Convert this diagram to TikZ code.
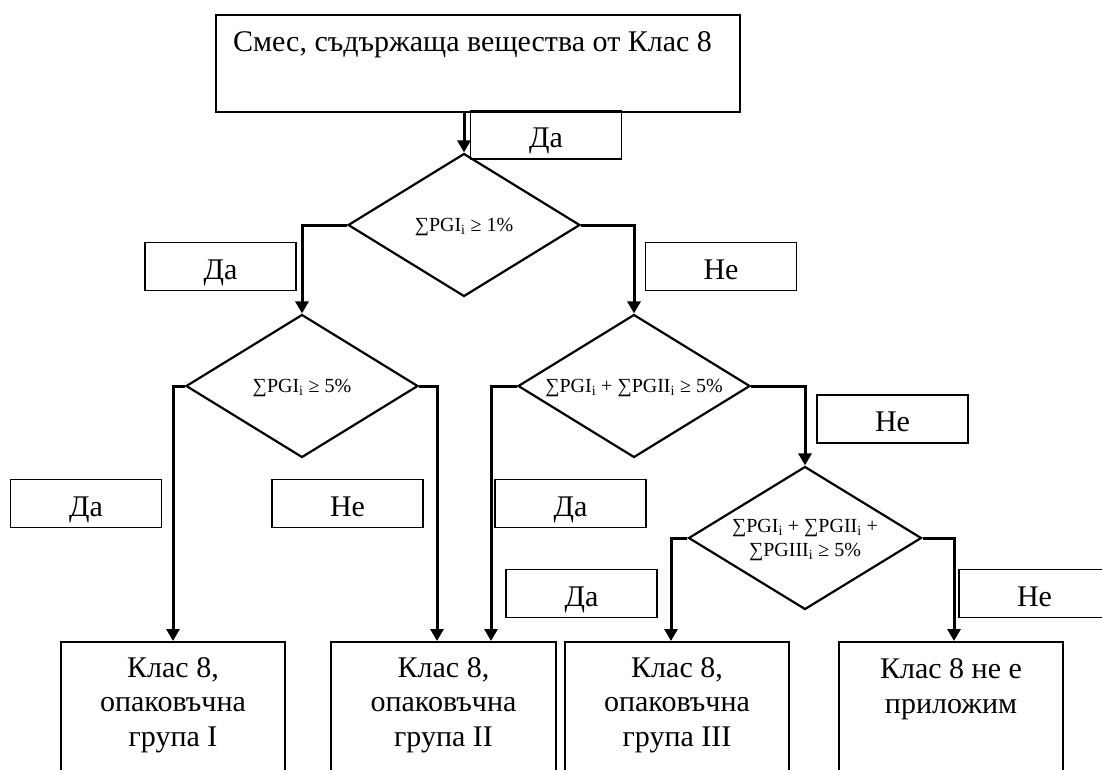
\documentclass[tikz,border=0pt]{standalone}
\usepackage{fontspec}
\setmainfont{Liberation Serif}
\usetikzlibrary{arrows.meta,shapes.geometric}
\tikzset{
  startbox/.style={draw,line width=2pt,minimum width=524pt,minimum height=97pt,inner sep=0pt},
  decision/.style={draw,diamond,line width=2.2pt,minimum width=232pt,minimum height=143pt,inner sep=0pt},
  cond/.style={align=center,inner sep=0pt,font=\fontsize{20}{24}\selectfont},
  answer/.style={draw,line width=1.8pt,minimum width=151pt,minimum height=48pt,inner sep=0pt,text height=25pt,text depth=0pt,font=\fontsize{30}{34.5}\selectfont},
  result/.style={draw,line width=1.8pt,minimum width=224pt,minimum height=150pt,inner sep=0pt,anchor=north},
  words/.style={align=center,inner sep=0pt,font=\fontsize{30}{34.5}\selectfont},
  flow/.style={-{Triangle[width=13pt,length=12pt]},line width=3pt}
}

\begin{document}
\begin{tikzpicture}[x=1pt,y=-1pt]
\clip (0,0) rectangle (1102,769);
\node[startbox] (mix) at (478,63.5) {};
\node[words,anchor=west] (mixtext) at (233,45) {Смес, съдържаща вещества от Клас 8};
\node[decision] (d1) at (464,225) {};
\node[cond] (d1text) at (464,227) {∑PGI\textsubscript{i} ≥ 1\%};
\node[decision] (d2) at (302,386) {};
\node[cond] (d2text) at (302,388) {∑PGI\textsubscript{i} ≥ 5\%};
\node[decision] (d3) at (634,386) {};
\node[cond] (d3text) at (634,388) {∑PGI\textsubscript{i} + ∑PGII\textsubscript{i} ≥ 5\%};
\node[decision,minimum width=233pt] (d4) at (805,538) {};
\node[cond] (d4text) at (805,540) {∑PGI\textsubscript{i} + ∑PGII\textsubscript{i} +\\∑PGIII\textsubscript{i} ≥ 5\%};
\node[result] (g1) at (173,641) {};
\node[result,minimum width=225pt] (g2) at (443.5,641) {};
\node[result] (g3) at (677,641) {};
\node[result] (g4) at (951,641) {};
\node[words] (g1text) at (173,705) {Клас 8,\\опаковъчна\\група I};
\node[words] (g2text) at (443.5,705) {Клас 8,\\опаковъчна\\група II};
\node[words] (g3text) at (677,705) {Клас 8,\\опаковъчна\\група III};
\node[words] (g4text) at (951,689) {Клас 8 не е\\приложим};
% arrows
\draw[flow] (mix.south -| d1.north) -- (d1.north);
\draw[flow] (d1.west) -| (d2.north);
\draw[flow] (d1.east) -| (d3.north);
\draw[flow] (d2.west) -| (g1.north);
\draw[flow] (d2.east) -| ([xshift=-6.5pt]g2.north);
\draw[flow] (d3.west) -| ([xshift=47.5pt]g2.north);
\draw[flow] (d3.east) -| (d4.north);
\draw[flow] (d4.west) -| ([xshift=-6pt]g3.north);
\draw[flow] (d4.east) -| ([xshift=3pt]g4.north);
% answers
\node[answer] (y0) at (546,135) {Да};
\node[answer] (y1) at (220.5,266.5) {Да};
\node[answer] (n1) at (721,266.5) {Не};
\node[answer] (y2) at (86,503.5) {Да};
\node[answer] (n2) at (347.5,503.5) {Не};
\node[answer] (y3) at (570.5,503.5) {Да};
\node[answer] (n3) at (892.5,419) {Не};
\node[answer] (y4) at (581.5,593.5) {Да};
\node[answer] (n4) at (1034.5,593.5) {Не};
\end{tikzpicture}
\end{document}
